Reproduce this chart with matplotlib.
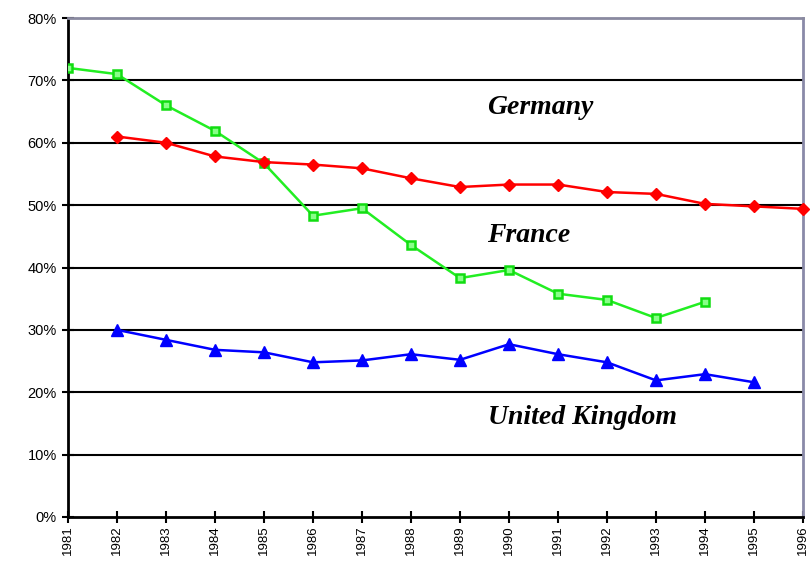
import matplotlib
matplotlib.use("Agg")
import matplotlib.pyplot as plt
from matplotlib.ticker import FuncFormatter

years = list(range(1981, 1997))
green_years = list(range(1981, 1995))
green_vals = [72.0, 71.0, 66.0, 61.9, 56.7, 48.3, 49.5, 43.6, 38.3, 39.6, 35.8, 34.8, 31.9, 34.5]
red_years = list(range(1982, 1997))
red_vals = [61.0, 60.0, 57.8, 56.9, 56.5, 55.9, 54.3, 52.9, 53.3, 53.3, 52.1, 51.8, 50.2, 49.8, 49.4]
blue_years = list(range(1982, 1996))
blue_vals = [30.0, 28.4, 26.8, 26.4, 24.8, 25.1, 26.1, 25.2, 27.7, 26.1, 24.8, 21.9, 22.9, 21.6]
y_ticks = [0, 10, 20, 30, 40, 50, 60, 70, 80]
labels = [("Germany", 1990.63, 65.6), ("France", 1990.4, 45.2), ("United Kingdom", 1991.5, 15.9)]

plt.rcParams['font.family'] = ['Liberation Sans', 'DejaVu Sans']
fig = plt.figure(figsize=(8.1, 5.66), dpi=100)
ax = fig.add_axes([68/810, 49/566, (803-68)/810, (517-18)/566])

ax.plot(green_years, green_vals, color='#22ee22', lw=1.8, marker='s', ms=6,
        mfc='#88ff88', mec='#11dd11', mew=1.8, zorder=4)
ax.plot(red_years, red_vals, color='#ff0000', lw=1.8, marker='D', ms=6,
        mfc='#ff0000', mec='#ff0000', zorder=4, clip_on=False)
ax.plot(blue_years, blue_vals, color='#0000ff', lw=1.8, marker='^', ms=8,
        mfc='#0000ff', mec='#0000ff', zorder=4)

ax.set_xlim(1981, 1996)
ax.set_ylim(0, 80)
ax.set_yticks(y_ticks)
ax.yaxis.set_major_formatter(FuncFormatter(lambda v, p: f"{int(v)}%"))
ax.set_xticks(years)
ax.set_xticklabels([str(y) for y in years], rotation=90, fontsize=9.5)
ax.tick_params(axis='y', labelsize=10.5, direction='inout', length=8, width=1.5, pad=4)
ax.tick_params(axis='x', direction='inout', length=8, width=1.5, pad=2)

for v in y_ticks[1:-1]:
    ax.axhline(v, color='black', lw=1.5, zorder=2)

ax.spines['left'].set_linewidth(2)
ax.spines['bottom'].set_linewidth(2)
ax.spines['top'].set_color('#8a8aa0')
ax.spines['top'].set_linewidth(2)
ax.spines['right'].set_color('#8a8aa8')
ax.spines['right'].set_linewidth(2)

for txt, x, y in labels:
    ax.text(x, y, txt, family=['Liberation Serif', 'DejaVu Serif'], fontsize=20,
            fontweight='bold', fontstyle='italic', ha='center', va='center', zorder=5)

fig.savefig("out.png", dpi=100)
